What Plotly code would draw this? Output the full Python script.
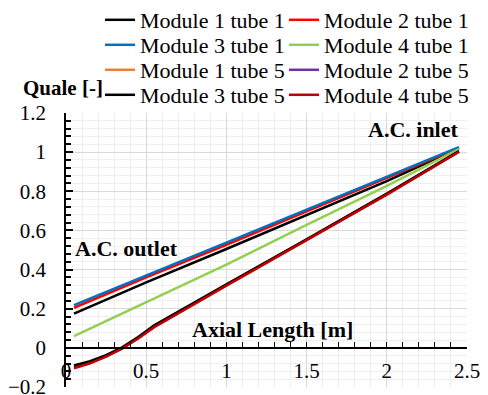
import plotly.graph_objects as go

# Axial positions [m]
x_pts = [0.05, 0.5, 1.0, 1.5, 2.0, 2.45]
x_t5 = [0.05, 0.15, 0.25, 0.35, 0.45, 0.55, 1.0, 1.5, 2.0, 2.45]

# Quality values
m1_t1 = [0.175, 0.335, 0.505, 0.680, 0.852, 1.020]
m2_t1 = [0.205, 0.360, 0.527, 0.697, 0.866, 1.022]
m3_t1 = [0.218, 0.370, 0.537, 0.706, 0.873, 1.026]
m4_t1 = [0.060, 0.232, 0.425, 0.628, 0.828, 1.015]
m1_t5 = [-0.095, -0.072, -0.040, 0.000, 0.052, 0.112, 0.322, 0.552, 0.786, 1.004]
m2_t5 = [-0.100, -0.076, -0.043, -0.002, 0.050, 0.108, 0.320, 0.550, 0.784, 1.003]
m3_t5 = [-0.090, -0.068, -0.037, 0.003, 0.055, 0.115, 0.325, 0.554, 0.788, 1.005]
m4_t5 = [-0.104, -0.079, -0.045, -0.004, 0.048, 0.106, 0.318, 0.549, 0.783, 1.002]

# (name, x, y, colour, legend row)
series = [
    ("Module 1 tube 1", x_pts, m1_t1, "#000000", "legend"),
    ("Module 2 tube 1", x_pts, m2_t1, "#ff0000", "legend"),
    ("Module 3 tube 1", x_pts, m3_t1, "#0070c0", "legend2"),
    ("Module 4 tube 1", x_pts, m4_t1, "#92d050", "legend2"),
    ("Module 1 tube 5", x_t5, m1_t5, "#ed7d31", "legend3"),
    ("Module 2 tube 5", x_t5, m2_t5, "#7030a0", "legend3"),
    ("Module 3 tube 5", x_t5, m3_t5, "#000000", "legend4"),
    ("Module 4 tube 5", x_t5, m4_t5, "#c00000", "legend4"),
]

FONT = "Liberation Serif"

fig = go.Figure()
for name, xs, ys, col, lg in series:
    fig.add_trace(go.Scatter(x=xs, y=ys, mode="lines", name=name, legend=lg,
                             line=dict(color=col, width=2.5)))

L, R, T, B = 66, 21, 113, 8
W, H = 488, 395
ph = H - T - B
ymin, ymax = -0.2, 1.2
zero_frac = (0 - ymin) / (ymax - ymin)


def legend_row(yc):
    return dict(orientation="h", xref="container", yref="container",
                x=100 / W, y=1 - yc / H, xanchor="left", yanchor="middle",
                entrywidth=139, entrywidthmode="pixels",
                font=dict(family=FONT, size=22, color="black"),
                bgcolor="rgba(0,0,0,0)", borderwidth=0, itemwidth=30)


fig.update_layout(
    width=W, height=H,
    margin=dict(l=L, r=R, t=T, b=B, pad=0, autoexpand=False),
    paper_bgcolor="white", plot_bgcolor="white",
    font=dict(family=FONT, size=21, color="black"),
    showlegend=True,
    legend=legend_row(20),
    legend2=legend_row(45),
    legend3=legend_row(70),
    legend4=legend_row(95),
    xaxis=dict(range=[0, 2.5], dtick=0.5, tick0=0,
               anchor="free", position=zero_frac,
               showline=True, linecolor="black", linewidth=1.5,
               ticks="inside", ticklen=5, tickcolor="black", tickwidth=1,
               ticklabelstandoff=4, ticklabeloverflow="allow",
               showgrid=True, gridcolor="#d9d9d9", gridwidth=1.3,
               zeroline=False,
               minor=dict(dtick=0.1, showgrid=True, gridcolor="#efefef",
                          gridwidth=1, ticks="inside", ticklen=5,
                          tickcolor="black")),
    yaxis=dict(range=[ymin, ymax], dtick=0.2, tick0=0,
               showline=True, linecolor="black", linewidth=1.5,
               ticks="inside", ticklen=7, tickcolor="black", tickwidth=1.5,
               ticklabelstandoff=14, ticklabeloverflow="allow",
               showgrid=True, gridcolor="#d9d9d9", gridwidth=1.3,
               zeroline=False,
               minor=dict(dtick=0.04, showgrid=True, gridcolor="#efefef",
                          gridwidth=1, ticks="inside", ticklen=5,
                          tickcolor="black")),
)

ann_font = dict(family=FONT, size=22, color="black")
fig.add_annotation(text="<b>Quale [-]</b>", xref="paper", yref="paper",
                   x=(21 - L) / (W - L - R), y=(H - B - 88) / ph,
                   xanchor="left", yanchor="middle", showarrow=False,
                   font=dict(family=FONT, size=21, color="black"))
fig.add_annotation(text="<b>A.C. outlet</b>", x=0.045, y=0.51,
                   xanchor="left", yanchor="middle", showarrow=False, font=ann_font)
fig.add_annotation(text="<b>A.C. inlet</b>", x=2.465, y=1.117,
                   xanchor="right", yanchor="middle", showarrow=False, font=ann_font)
fig.add_annotation(text="<b>Axial Length [m]</b>", x=0.775, y=0.092,
                   xanchor="left", yanchor="middle", showarrow=False, font=ann_font)

fig.write_html("out.html")
